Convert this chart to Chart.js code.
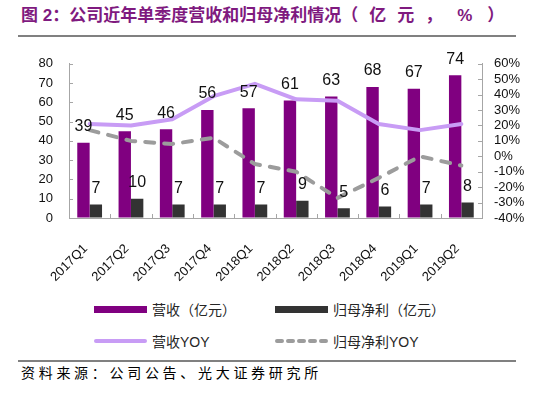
<!DOCTYPE html>
<html><head><meta charset="utf-8">
<script src="https://cdn.jsdelivr.net/npm/chart.js@4.4.1/dist/chart.umd.min.js"></script>
<style>
html,body{margin:0;padding:0;background:#fff;width:554px;height:394px;overflow:hidden;position:relative;font-family:"Liberation Sans","Noto Sans CJK SC",sans-serif;}
#title{position:absolute;left:21px;top:4px;font-family:"Liberation Sans","Noto Sans CJK SC",sans-serif;font-weight:bold;font-size:17px;color:#7f1a7f;white-space:nowrap;line-height:24px;}
#title .paren{letter-spacing:11px;}
#title .pct{margin-left:4px;margin-right:4px;}
#topline{position:absolute;left:18px;top:35px;width:498px;height:2px;background:#808080;}
#chartwrap{position:absolute;left:0;top:40px;width:554px;height:250px;}
.lg{position:absolute;height:20px;display:flex;align-items:center;font-size:14px;color:#262626;font-family:"Liberation Sans","Noto Sans CJK SC",sans-serif;white-space:nowrap;}
.lg .sw{width:53px;height:20px;margin-right:5px;display:flex;align-items:center;}
#bottomline{position:absolute;left:18px;top:360px;width:498px;height:2px;background:#808080;}
#source{position:absolute;left:21px;top:363px;font-family:"Noto Sans CJK SC",sans-serif;font-size:14px;letter-spacing:3.7px;color:#000;line-height:18px;}
</style>
</head><body>
<div id="title">图 2：公司近年单季度营收和归母净利情况<span class="paren">（亿元，<span class="pct">%</span>）</span></div>
<div id="topline"></div>
<div id="chartwrap"><canvas id="c" width="554" height="250"></canvas></div>
<div id="legend"></div>
<div id="bottomline"></div>
<div id="source">资料来源：公司公告、光大证券研究所</div>
<script>
const categories = ['2017Q1','2017Q2','2017Q3','2017Q4','2018Q1','2018Q2','2018Q3','2018Q4','2019Q1','2019Q2'];
const revenue = [39,45,46,56,57,61,63,68,67,74];
const netProfit = [7,10,7,7,7,9,5,6,7,8];
const revenueYoY = [21,20,24,39,47,37,36,21,17,21];
const netProfitYoY = [17,10,8,12,-5,-10,-27,-14,0,-6];
const leftTicks = {min:0,max:80,step:10};
const rightTicks = {min:-40,max:60,step:10};
const seriesNames = ['营收（亿元）','归母净利（亿元）','营收YOY','归母净利YOY'];
const colors = ['#800080','#333333','#c89cf5','#9c9c9c'];

const AXIS = '#a6a6a6';
const tickFont = {family:'"Liberation Sans", Arial, sans-serif', size:13};

const inwardTicks = {
  id:'inwardTicks',
  afterDraw(chart){
    const {ctx, chartArea:{left,right,top,bottom}, scales} = chart;
    const L = 4;
    ctx.save();
    ctx.strokeStyle = AXIS; ctx.lineWidth = 1;
    scales.y.ticks.forEach((t,i)=>{
      const py = Math.round(scales.y.getPixelForTick(i))+0.5;
      ctx.beginPath(); ctx.moveTo(left,py); ctx.lineTo(left+L,py); ctx.stroke();
    });
    scales.y1.ticks.forEach((t,i)=>{
      const py = Math.round(scales.y1.getPixelForTick(i))+0.5;
      ctx.beginPath(); ctx.moveTo(right-L,py); ctx.lineTo(right,py); ctx.stroke();
    });
    for(let i=1;i<categories.length;i++){
      const px = Math.round((scales.x.getPixelForValue(i-1)+scales.x.getPixelForValue(i))/2)+0.5;
      ctx.beginPath(); ctx.moveTo(px,bottom-L); ctx.lineTo(px,bottom); ctx.stroke();
    }
    ctx.restore();
  }
};

const barLabels = {
  id:'barLabels',
  afterDatasetsDraw(chart){
    const {ctx} = chart;
    ctx.save();
    ctx.font = '16px "Liberation Sans", Arial, sans-serif';
    ctx.fillStyle = '#111';
    ctx.textAlign = 'center';
    ctx.textBaseline = 'middle';
    chart.data.datasets.forEach((ds,di)=>{
      if(ds.type !== 'bar') return;
      const meta = chart.getDatasetMeta(di);
      meta.data.forEach((el,i)=>{
        ctx.fillText(String(ds.data[i]), el.x, el.y - 16);
      });
    });
    ctx.restore();
  }
};

const chart = new Chart(document.getElementById('c'), {
  data:{
    labels: categories,
    datasets:[
      {type:'bar', label:seriesNames[0], data:revenue, backgroundColor:colors[0], yAxisID:'y', order:2, barPercentage:1, categoryPercentage:0.6},
      {type:'bar', label:seriesNames[1], data:netProfit, backgroundColor:colors[1], yAxisID:'y', order:2, barPercentage:1, categoryPercentage:0.6},
      {type:'line', label:seriesNames[2], data:revenueYoY, borderColor:colors[2], borderWidth:4, pointRadius:0, tension:0, yAxisID:'y1', order:1, borderCapStyle:'round', borderJoinStyle:'round'},
      {type:'line', label:seriesNames[3], data:netProfitYoY, borderColor:colors[3], borderWidth:4, pointRadius:0, tension:0, yAxisID:'y1', order:1, borderDash:[9,10], borderCapStyle:'round', borderJoinStyle:'round'}
    ]
  },
  options:{
    responsive:false, animation:false, devicePixelRatio:1,
    layout:{padding:{top:21,left:0,right:0,bottom:0}},
    plugins:{legend:{display:false}, tooltip:{enabled:false}},
    scales:{
      x:{
        grid:{display:true, drawOnChartArea:false, drawTicks:false},
        border:{display:true,color:AXIS,width:1},
        ticks:{font:tickFont,color:'#111',minRotation:45,maxRotation:45,padding:23,labelOffset:-4,autoSkip:false},
        afterFit(s){s.height=72;}
      },
      y:{
        position:'left', min:leftTicks.min, max:leftTicks.max,
        grid:{display:true, drawOnChartArea:false, drawTicks:false},
        border:{display:true,color:AXIS,width:1},
        ticks:{font:tickFont,color:'#111',stepSize:leftTicks.step,padding:16,autoSkip:false},
        afterFit(s){s.width=69;}
      },
      y1:{
        position:'right', min:rightTicks.min, max:rightTicks.max,
        grid:{display:true, drawOnChartArea:false, drawTicks:false},
        border:{display:true,color:AXIS,width:1},
        ticks:{font:tickFont,color:'#111',stepSize:rightTicks.step,padding:12,autoSkip:false,callback:v=>v+'%'},
        afterFit(s){s.width=72;}
      }
    }
  },
  plugins:[inwardTicks, barLabels]
});

// HTML legend in a 2x2 grid
const legend = document.getElementById('legend');
const pos = [[94,299],[275,299],[94,331],[275,331]];
chart.data.datasets.forEach((ds,i)=>{
  const item = document.createElement('div');
  item.className='lg';
  item.style.left = pos[i][0]+'px';
  item.style.top = pos[i][1]+'px';
  const sw = document.createElement('div');
  sw.className='sw';
  if(ds.type==='bar'){
    sw.innerHTML = '<div style="width:53px;height:7px;background:'+ds.backgroundColor+'"></div>';
  } else {
    const dash = ds.borderDash ? 'stroke-dasharray="5 6"' : '';
    sw.innerHTML = '<svg width="53" height="20"><line x1="2" y1="10" x2="51" y2="10" stroke="'+ds.borderColor+'" stroke-width="4" stroke-linecap="round" '+dash+'/></svg>';
  }
  const tx = document.createElement('span');
  tx.textContent = ds.label;
  item.appendChild(sw); item.appendChild(tx);
  legend.appendChild(item);
});
</script>
</body></html>
